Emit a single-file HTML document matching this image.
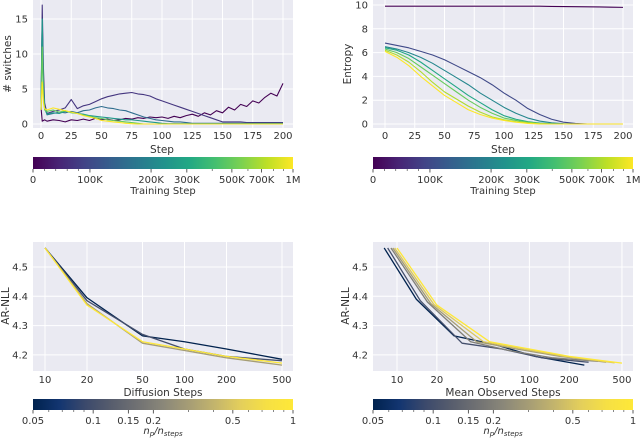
<!DOCTYPE html>
<html><head><meta charset="utf-8"><style>
body{margin:0;background:#fff;}
svg{display:block;font-family:"DejaVu Sans","Liberation Sans",sans-serif;}
text{fill:#333;}
</style></head><body>
<svg id="c" width="640" height="440" viewBox="0 0 640 440">
<defs>
<linearGradient id="viridis" x1="0" x2="1" y1="0" y2="0">
<stop offset="0" stop-color="#440154"/><stop offset="0.1" stop-color="#482475"/><stop offset="0.2" stop-color="#414487"/><stop offset="0.3" stop-color="#355f8d"/><stop offset="0.4" stop-color="#2a788e"/><stop offset="0.5" stop-color="#21918c"/><stop offset="0.6" stop-color="#22a884"/><stop offset="0.7" stop-color="#44bf70"/><stop offset="0.8" stop-color="#7ad151"/><stop offset="0.9" stop-color="#bddf26"/><stop offset="1" stop-color="#fde725"/>
</linearGradient>
<linearGradient id="cividis" x1="0" x2="1" y1="0" y2="0">
<stop offset="0" stop-color="#00224e"/><stop offset="0.1" stop-color="#123570"/><stop offset="0.2" stop-color="#3b496c"/><stop offset="0.3" stop-color="#575d6d"/><stop offset="0.4" stop-color="#707173"/><stop offset="0.5" stop-color="#8a8779"/><stop offset="0.6" stop-color="#a69d75"/><stop offset="0.7" stop-color="#c4b56c"/><stop offset="0.8" stop-color="#e4cf5b"/><stop offset="0.9" stop-color="#f6e044"/><stop offset="1" stop-color="#fee838"/>
</linearGradient>
</defs>
</svg>
<script>
// ---- data ----
const swSteps=[0,1,2,3,5,10,15,20,25,30,35,40,45,50,55,60,65,70,75,80,85,90,95,100,105,110,115,120,125,130,135,140,145,150,155,160,165,170,175,180,185,190,195,200];
const sw0=[2.4,0.4,0.5,0.6,0.4,0.6,0.5,0.3,0.6,0.5,0.7,0.5,0.8,0.6,0.7,0.5,0.6,0.8,0.7,0.9,0.8,1.0,0.9,1.0,0.8,1.1,0.9,1.2,1.4,1.1,1.6,1.3,1.9,1.6,2.4,2.0,2.8,2.5,3.3,3.0,3.8,4.4,4.0,5.8];
const sw1=[2.0,17,8,3,1.5,1.8,2.0,2.3,3.5,2.2,2.6,2.8,3.2,3.6,3.9,4.1,4.3,4.4,4.5,4.3,4.2,4.0,3.6,3.3,3.0,2.7,2.4,2.1,1.8,1.5,1.2,0.9,0.6,0.3,0.3,0.3,0.3,0.2,0.2,0.2,0.2,0.2,0.2,0.2];
const sw2=[2.0,15,6,2.5,1.3,1.5,1.7,1.6,1.8,1.6,1.9,2.0,2.3,2.5,2.3,2.2,2.0,1.9,1.6,1.3,1.0,0.8,0.6,0.5,0.4,0.3,0.3,0.2,0.1,0.1,0.1,0.1,0.1,0.1,0.1,0.1,0.1,0.1,0.1,0.1,0.1,0.1,0.1,0.1];
const sw3=[2.0,15,5,2.2,1.4,1.6,1.5,1.8,1.7,1.5,1.4,1.2,1.1,1.0,0.9,0.8,0.7,0.6,0.6,0.5,0.4,0.3,0.2,0.1,0.05,0.05,0.05,0.05,0.05,0.05,0.05,0.05,0.05,0.05,0.05,0.05,0.05,0.05,0.05,0.05,0.05,0.05,0.05,0.05];
const sw4=[2.0,11,4,2.0,1.8,2.0,1.7,1.9,1.6,1.5,1.3,1.1,0.9,0.8,0.6,0.5,0.4,0.3,0.2,0.1,0,0,0,0,0,0,0,0,0,0,0,0,0,0,0,0,0,0,0,0,0,0,0,0];
const sw5=[2.0,6,3,2.2,2.0,2.3,2.1,1.9,1.7,1.5,1.2,1.0,0.8,0.5,0.4,0.3,0.2,0.1,0.05,0,0,0,0,0,0,0,0,0,0,0,0,0,0,0,0,0,0,0,0,0,0,0,0,0];
const swTrain=[0,70000,150000,250000,500000,1000000];

const enSteps=[0,10,20,30,40,50,60,70,80,90,100,110,120,130,140,150,160,170,180,190,200];
const en0=[9.9,9.9,9.9,9.9,9.9,9.9,9.9,9.9,9.9,9.9,9.9,9.9,9.9,9.9,9.88,9.87,9.86,9.85,9.84,9.82,9.8];
const en1=[6.8,6.6,6.4,6.1,5.8,5.4,4.9,4.4,3.9,3.3,2.6,2.0,1.3,0.8,0.4,0.15,0.05,0,0,0,0];
const en2=[6.5,6.3,6.0,5.6,5.1,4.5,3.9,3.3,2.6,2.0,1.4,0.9,0.5,0.25,0.1,0.03,0,0,0,0,0];
const en3=[6.4,6.2,5.8,5.2,4.5,3.8,3.1,2.4,1.8,1.2,0.7,0.4,0.2,0.08,0.03,0,0,0,0,0,0];
const en4=[6.3,6.0,5.5,4.8,4.1,3.4,2.7,2.0,1.4,0.9,0.5,0.3,0.15,0.05,0,0,0,0,0,0,0];
const en5=[6.2,5.8,5.2,4.4,3.5,2.7,2.1,1.5,1.0,0.6,0.35,0.2,0.1,0.03,0,0,0,0,0,0,0];
const en6=[6.1,5.6,4.9,4.0,3.2,2.4,1.8,1.2,0.8,0.5,0.3,0.15,0.05,0,0,0,0,0,0,0,0];
const enTrain=[0,100000,200000,300000,500000,700000,1000000];

const dSteps=[10,20,50,100,200,500];
const nll0=[4.565,4.395,4.265,4.245,4.22,4.185];
const nll1=[4.565,4.385,4.27,4.22,4.195,4.18];
const nll2=[4.565,4.375,4.24,4.215,4.19,4.165];
const nll3=[4.565,4.37,4.245,4.22,4.195,4.172];
const nllRatio=[0.05,0.1,0.3,1];

const obs0=[8,14,27,55,110,260];
const obs1=[8.5,15,31,62,125,280];
const obs2=[9,17,36,70,150,330];
const obs3=[9.3,18,40,80,170,380];
const obs4=[9.6,19,45,90,185,440];
const obs5=[10,20,50,100,200,500];
const onll0=[4.565,4.39,4.265,4.235,4.195,4.165];
const onll1=[4.565,4.385,4.24,4.22,4.19,4.175];
const onll2=[4.565,4.38,4.245,4.215,4.19,4.178];
const onll3=[4.565,4.375,4.245,4.22,4.195,4.175];
const onll4=[4.565,4.372,4.245,4.22,4.195,4.173];
const onll5=[4.565,4.37,4.245,4.22,4.195,4.172];
const obsRatio=[0.05,0.1,0.2,0.3,0.5,1];

const trainTicks=[0,100000,200000,300000,500000,700000,1000000];
const trainTickLabels=['0','100K','200K','300K','500K','700K','1M'];
const trainMinor=[20000,40000,60000,80000,400000,600000,800000,900000];
const ratioTicks=[0.05,0.1,0.15,0.2,0.5,1];
const ratioTickLabels=['0.05','0.1','0.15','0.2','0.5','1'];
const ratioMinor=[0.06,0.07,0.08,0.09,0.3,0.4,0.6,0.7,0.8,0.9];

// ---- helpers ----
const svg=document.getElementById('c');
const NS='http://www.w3.org/2000/svg';
function mk(tag,attrs,parent){const e=document.createElementNS(NS,tag);for(const k in attrs)e.setAttribute(k,attrs[k]);(parent||svg).appendChild(e);return e;}
function txt(x,y,s,anchor,size,parent,rot){const e=mk('text',{x:x,y:y,'text-anchor':anchor||'middle','font-size':size||10},parent);if(rot)e.setAttribute('transform','rotate(-90 '+x+' '+y+')');e.textContent=s;return e;}
function hex(c){return [parseInt(c.slice(1,3),16),parseInt(c.slice(3,5),16),parseInt(c.slice(5,7),16)];}
const VIR=['#440154','#482475','#414487','#355f8d','#2a788e','#21918c','#22a884','#44bf70','#7ad151','#bddf26','#fde725'];
const CIV=['#00224e','#123570','#3b496c','#575d6d','#707173','#8a8779','#a69d75','#c4b56c','#e4cf5b','#f6e044','#fee838'];
function cmap(m,t){t=Math.max(0,Math.min(1,t));const f=t*10,i=Math.min(9,Math.floor(f)),r=f-i;const a=hex(m[i]),b=hex(m[i+1]);return 'rgb('+a.map((v,k)=>Math.round(v+(b[k]-v)*r)).join(',')+')';}
function trainFrac(v){return v<=100000?0.219*v/100000:0.219+0.781*Math.log10(v/100000);}
function ratioFrac(v){return Math.log10(v/0.05)/Math.log10(20);}

function axesBg(x0,y0,x1,y1,name){const g=mk('g',{});mk('rect',{x:x0,y:y0,width:x1-x0,height:y1-y0,fill:'#eaeaf2'},g);return g;}
function line(g,xs,ys,sx,sy,color,name,w){const d=xs.map((v,i)=>(i?'L':'M')+sx(v).toFixed(2)+' '+sy(ys[i]).toFixed(2)).join('');const p=mk('path',{d:d,fill:'none',stroke:color,'stroke-width':w||1.1,'stroke-linejoin':'round'},g);return p;}
function colorbar(x0,x1,y0,y1,grad,ticks,labels,minor,frac,title,name,italic){
  const g=mk('g',{});
  mk('rect',{x:x0,y:y0,width:x1-x0,height:y1-y0,fill:'url(#'+grad+')'},g);
  ticks.forEach((v,i)=>{const x=x0+(x1-x0)*frac(v);mk('line',{x1:x,x2:x,y1:y1,y2:y1+3.5,stroke:'#333','stroke-width':0.8},g);txt(x,y1+14,labels[i],'middle',10,g);});
  minor.forEach(v=>{const x=x0+(x1-x0)*frac(v);mk('line',{x1:x,x2:x,y1:y1,y2:y1+2,stroke:'#333','stroke-width':0.6},g);});
  if(italic){const t=mk('text',{x:(x0+x1)/2,y:y1+24,'text-anchor':'middle','font-size':10,'font-style':'italic'},g);t.innerHTML='n<tspan font-size="7" dy="2">p</tspan><tspan dy="-2">/n</tspan><tspan font-size="7" dy="2">steps</tspan>';}
  else txt((x0+x1)/2,y1+25,title,'middle',10,g);
}

// ---- plot 1: switches ----
(function(){
  const X0=33,X1=293,Y0=0,Y1=128;
  const sx=v=>41+v*1.21, sy=v=>124-v*7;
  const g=axesBg(X0,Y0,X1,Y1,'switches-plot');
  [0,25,50,75,100,125,150,175,200].forEach(v=>{mk('line',{x1:sx(v),x2:sx(v),y1:Y0,y2:Y1,stroke:'#fff','stroke-width':1},g);txt(sx(v),Y1+11,String(v),'middle',10);});
  [0,5,10,15].forEach(v=>{mk('line',{x1:X0,x2:X1,y1:sy(v),y2:sy(v),stroke:'#fff','stroke-width':1},g);txt(28,sy(v)+3.5,String(v),'end',10);});
  [sw0,sw1,sw2,sw3,sw4,sw5].forEach((s,i)=>line(g,swSteps,s,sx,sy,cmap(VIR,trainFrac(swTrain[i])),'switches-line-'+i,1.1));
  txt(162,153,'Step','middle',10.5);
  txt(11,64,'# switches','middle',10.5,null,true);
  colorbar(33,293,157,169,'viridis',trainTicks,trainTickLabels,trainMinor,trainFrac,'Training Step','switches-colorbar');
})();

// ---- plot 2: entropy ----
(function(){
  const X0=373,X1=633,Y0=0,Y1=128;
  const sx=v=>385+v*1.19, sy=v=>124-v*11.9;
  const g=axesBg(X0,Y0,X1,Y1,'entropy-plot');
  [0,25,50,75,100,125,150,175,200].forEach(v=>{mk('line',{x1:sx(v),x2:sx(v),y1:Y0,y2:Y1,stroke:'#fff','stroke-width':1},g);txt(sx(v),Y1+11,String(v),'middle',10);});
  [0,2,4,6,8,10].forEach(v=>{mk('line',{x1:X0,x2:X1,y1:sy(v),y2:sy(v),stroke:'#fff','stroke-width':1},g);txt(368,sy(v)+3.5,String(v),'end',10);});
  [en0,en1,en2,en3,en4,en5,en6].forEach((s,i)=>line(g,enSteps,s,sx,sy,cmap(VIR,trainFrac(enTrain[i])),'entropy-line-'+i,1.1));
  txt(503,153,'Step','middle',10.5);
  txt(351,64,'Entropy','middle',10.5,null,true);
  colorbar(373,633,157,169,'viridis',trainTicks,trainTickLabels,trainMinor,trainFrac,'Training Step','entropy-colorbar');
})();

// ---- plot 3: diffusion steps ----
const syN=v=>267+(4.5-v)*293;
(function(){
  const X0=33,X1=293,Y0=242,Y1=371;
  const sx=v=>45+Math.log10(v/10)*139.5;
  const g=axesBg(X0,Y0,X1,Y1,'diffusion-steps-plot');
  dSteps.forEach(v=>{mk('line',{x1:sx(v),x2:sx(v),y1:Y0,y2:Y1,stroke:'#fff','stroke-width':1},g);txt(sx(v),Y1+12,String(v),'middle',10);});
  [4.2,4.3,4.4,4.5].forEach(v=>{mk('line',{x1:X0,x2:X1,y1:syN(v),y2:syN(v),stroke:'#fff','stroke-width':1},g);txt(28,syN(v)+3.5,v.toFixed(1),'end',10);});
  [nll0,nll1,nll2,nll3].forEach((s,i)=>line(g,dSteps,s,sx,syN,cmap(CIV,ratioFrac(nllRatio[i])),'nll-line-'+i,1.3));
  txt(163,396,'Diffusion Steps','middle',10.5);
  txt(9,306,'AR-NLL','middle',10.5,null,true);
  colorbar(33,293,399,410,'cividis',ratioTicks,ratioTickLabels,ratioMinor,ratioFrac,'','diffusion-colorbar',true);
})();

// ---- plot 4: mean observed steps ----
(function(){
  const X0=373,X1=633,Y0=242,Y1=371;
  const sx=v=>397+Math.log10(v/10)*132.4;
  const g=axesBg(X0,Y0,X1,Y1,'observed-steps-plot');
  dSteps.forEach(v=>{mk('line',{x1:sx(v),x2:sx(v),y1:Y0,y2:Y1,stroke:'#fff','stroke-width':1},g);txt(sx(v),Y1+12,String(v),'middle',10);});
  [4.2,4.3,4.4,4.5].forEach(v=>{mk('line',{x1:X0,x2:X1,y1:syN(v),y2:syN(v),stroke:'#fff','stroke-width':1},g);txt(368,syN(v)+3.5,v.toFixed(1),'end',10);});
  const xs=[obs0,obs1,obs2,obs3,obs4,obs5], ys=[onll0,onll1,onll2,onll3,onll4,onll5];
  xs.forEach((s,i)=>line(g,s,ys[i],sx,syN,cmap(CIV,ratioFrac(obsRatio[i])),'observed-line-'+i,1.3));
  txt(503,396,'Mean Observed Steps','middle',10.5);
  txt(349,306,'AR-NLL','middle',10.5,null,true);
  colorbar(373,633,399,410,'cividis',ratioTicks,ratioTickLabels,ratioMinor,ratioFrac,'','observed-colorbar',true);
})();
</script>
</body></html>
